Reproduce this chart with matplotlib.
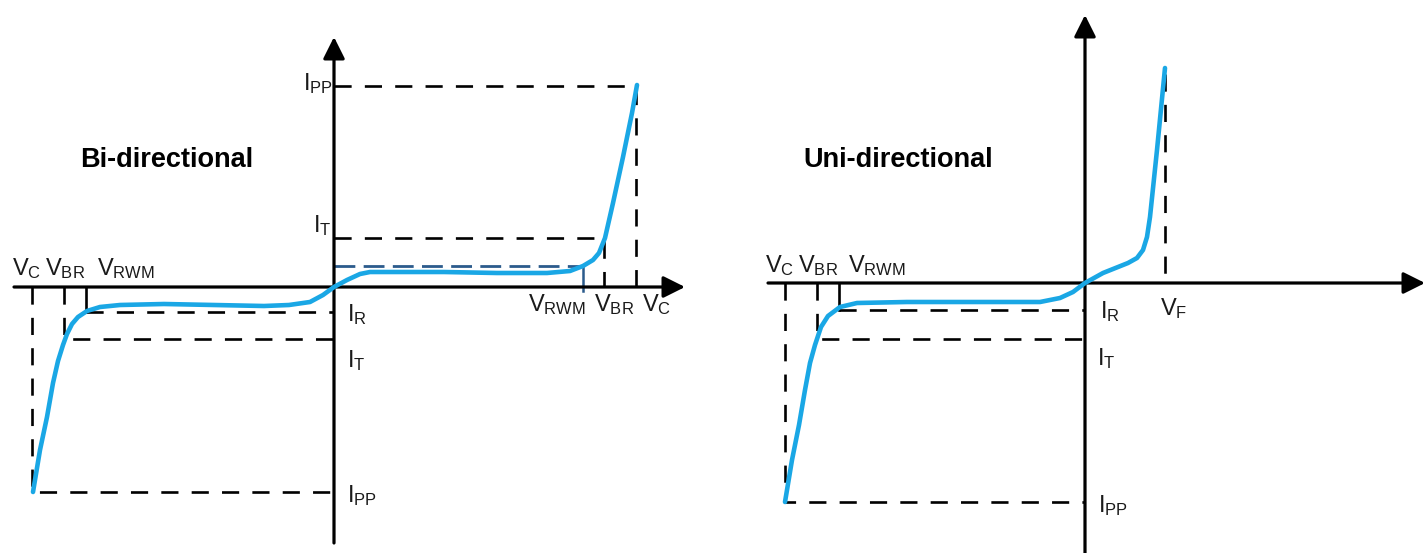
"""TVS diode I-V characteristics: bi-directional vs uni-directional"""

import matplotlib
matplotlib.use("Agg")
from matplotlib import pyplot as plt

plt.rcParams['font.family'] = ['Liberation Sans', 'DejaVu Sans']
plt.rcParams['mathtext.fontset'] = 'custom'
plt.rcParams['mathtext.rm'] = 'Liberation Sans'

# bi-directional curve (voltage, current), arbitrary units, origin at (0, 0)
bi_v = [-301, -294, -287, -281, -276, -271, -267, -262, -256, -247, -234, -214, -170, -120, -70,
        -45, -24, -11, 0, 13, 26, 36, 66, 110, 163, 213, 236, 249, 259, 265, 271, 279, 289, 298, 303]
bi_i = [-205, -163, -130, -96, -74, -58, -47, -37, -30, -24, -20, -18, -17, -18, -19,
        -18, -15, -8, 0, 7, 13, 15, 15, 15, 14, 14, 16, 21, 27, 34, 49, 84, 130, 174, 202]
bi_vc, bi_vbr, bi_vrwm = 302, 270, 249
bi_vc_n, bi_vbr_n, bi_vrwm_n = -302, -270, -248
bi_ipp, bi_it, bi_ir = 201, 49, 21
bi_ipp_n, bi_it_n, bi_ir_n = -205, -52, -25

# uni-directional curve
uni_v = [-300, -293, -286, -280, -275, -270, -264, -257, -245, -228, -178, -112, -45, -25, -12,
         0, 18, 43, 52, 58, 62, 65, 72, 80]
uni_i = [-219, -177, -142, -107, -80, -62, -44, -33, -24, -20, -19, -19, -19, -15, -9,
         0, 10, 20, 25, 33, 46, 66, 133, 215]
uni_vc, uni_vbr, uni_vrwm, uni_vf = -300, -268, -246, 80
uni_ipp, uni_it, uni_ir, uni_if = -219, -56, -27, 215

CURVE = '#1AA7E5'
RWM_BLUE = '#2B5B8C'
TXT = '#1a1a1a'
DASH = dict(color='k', lw=1.9, linestyle=(0, (6.5, 5)))
FS = 17


def axis_arrows(ax, x0, x1, y0, y1):
    """draws the two black axes with filled arrow heads"""
    style = '-|>,head_length=0.6,head_width=0.3'
    ax.annotate('', xy=(x1, 0), xytext=(x0, 0),
                arrowprops=dict(arrowstyle=style, lw=2.3, color='k', mutation_scale=22,
                                shrinkA=0, shrinkB=0))
    ax.annotate('', xy=(0, y1), xytext=(0, y0),
                arrowprops=dict(arrowstyle=style, lw=2.3, color='k', mutation_scale=22,
                                shrinkA=0, shrinkB=0))


def label(ax, x, y, main, sub):
    ax.text(x, y, r'$\mathrm{%s_{%s}}$' % (main, sub), fontsize=FS, color=TXT,
            ha='left', va='baseline')


fig = plt.figure(figsize=(14.26, 5.53), dpi=100)

# ---- bi-directional ----
ax1 = fig.add_axes([0, 0, 0.5, 1])
ax1.set_xlim(-334, 379)
ax1.set_ylim(-266, 287)
ax1.axis('off')

ax1.plot([0, bi_vc, bi_vc], [bi_ipp, bi_ipp, 0], **DASH)
ax1.plot([0, bi_vbr, bi_vbr], [bi_it, bi_it, 0], **DASH)
ax1.plot([0, bi_vrwm], [bi_ir, bi_ir], color=RWM_BLUE, lw=2.0, linestyle=(0, (7.5, 3)))
ax1.plot([bi_vrwm, bi_vrwm], [bi_ir, -4], color=RWM_BLUE, lw=1.8)
ax1.plot([bi_vrwm_n, bi_vrwm_n], [0, bi_ir_n], color='k', lw=1.9)
ax1.plot([bi_vrwm_n, 0], [bi_ir_n, bi_ir_n], **DASH)
ax1.plot([bi_vbr_n, bi_vbr_n, 0], [0, bi_it_n, bi_it_n], **DASH)
ax1.plot([bi_vc_n, bi_vc_n, 0], [0, bi_ipp_n, bi_ipp_n], **DASH)

axis_arrows(ax1, -320, 351, -256, 250)
ax1.plot(bi_v, bi_i, color=CURVE, lw=3.3, solid_capstyle='round', solid_joinstyle='round', zorder=5)

label(ax1, -322, 12, 'V', 'C')
label(ax1, -289, 12, 'V', 'BR')
label(ax1, -237, 12, 'V', 'RWM')
label(ax1, 194, -24, 'V', 'RWM')
label(ax1, 260, -24, 'V', 'BR')
label(ax1, 308, -24, 'V', 'C')
label(ax1, 13, -34, 'I', 'R')
label(ax1, 13, -80, 'I', 'T')
label(ax1, 13, -215, 'I', 'PP')
label(ax1, -21, 55, 'I', 'T')
label(ax1, -31, 197, 'I', 'PP')
ax1.text(-254, 120, 'Bi-directional', fontsize=19.5, fontweight='bold', color='k',
         ha='left', va='baseline')

# ---- uni-directional ----
ax2 = fig.add_axes([0.5, 0, 0.5, 1])
ax2.set_xlim(-372, 341)
ax2.set_ylim(-270, 283)
ax2.axis('off')

ax2.plot([uni_vf, uni_vf], [uni_if - 6, 0], **DASH)
ax2.plot([uni_vrwm, uni_vrwm], [0, uni_ir], color='k', lw=1.9)
ax2.plot([uni_vrwm, 0], [uni_ir, uni_ir], **DASH)
ax2.plot([uni_vbr, uni_vbr, 0], [0, uni_it, uni_it], **DASH)
ax2.plot([uni_vc, uni_vc, 0], [0, uni_ipp, uni_ipp], **DASH)

axis_arrows(ax2, -317, 340, -272, 268)
ax2.plot(uni_v, uni_i, color=CURVE, lw=3.3, solid_capstyle='round', solid_joinstyle='round', zorder=5)

label(ax2, -320, 11, 'V', 'C')
label(ax2, -287, 11, 'V', 'BR')
label(ax2, -237, 11, 'V', 'RWM')
label(ax2, 15, -35, 'I', 'R')
label(ax2, 75, -32, 'V', 'F')
label(ax2, 12, -82, 'I', 'T')
label(ax2, 13, -229, 'I', 'PP')
ax2.text(-282, 116, 'Uni-directional', fontsize=19.5, fontweight='bold', color='k',
         ha='left', va='baseline')

fig.savefig('out.png', dpi=100)
